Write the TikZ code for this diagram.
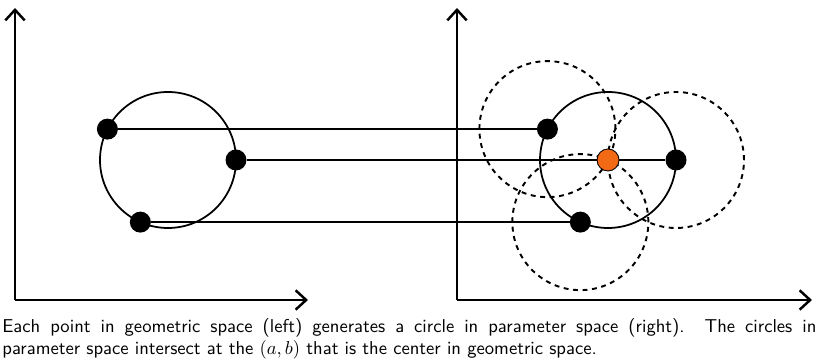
\documentclass[tikz,border=0pt]{standalone}
\usepackage{amsmath,amssymb}
\usepackage{tikz}
\usepackage{xcolor}
\usetikzlibrary{arrows.meta}

\definecolor{houghorange}{RGB}{242,106,20}

\tikzset{
  axis/.style={line width=1.4pt,-{Straight Barb[length=6pt,width=11pt,line width=1.4pt]}},
  ring/.style={line width=1pt},
  vote/.style={line width=1.1pt,dash pattern=on 2.8pt off 2.6pt},
  dot/.style={circle,fill=black,inner sep=0pt,minimum size=0.42cm},
  hit/.style={circle,draw=black,line width=0.5pt,fill=houghorange,inner sep=0pt,minimum size=0.44cm}
}

\begin{document}
\begin{tikzpicture}[font=\sffamily]
\useasboundingbox (0,0) rectangle (16.4,7.2);
% axes
\coordinate (lo) at (0.3,1.2);
\coordinate (ro) at (9.14,1.2);
\coordinate (ly) at (0.3,7.04);
\coordinate (lx) at (6.16,1.2);
\coordinate (ry) at (9.14,7.04);
\coordinate (rx) at (16.24,1.2);
\draw[axis] (lo) -- (ly);
\draw[axis] (lo) -- (lx);
\draw[axis] (ro) -- (ry);
\draw[axis] (ro) -- (rx);
% circles
\coordinate (C) at (3.36,4.0);
\coordinate (D) at (12.16,4.0);
\draw[ring] (C) circle (1.36);
\draw[ring] (D) circle (1.36);
\coordinate (p1) at ([shift={(153:1.36)}]C);
\coordinate (p2) at ([shift={(0:1.36)}]C);
\coordinate (p3) at ([shift={(246:1.36)}]C);
\coordinate (q1) at ([shift={(153:1.36)}]D);
\coordinate (q2) at ([shift={(0:1.36)}]D);
\coordinate (q3) at ([shift={(246:1.36)}]D);
\draw[vote] (q1) circle (1.36);
\draw[vote] (q2) circle (1.36);
\draw[vote] (q3) circle (1.36);
% points
\node[dot] (l1) at (p1) {};
\node[dot] (l2) at (p2) {};
\node[dot] (l3) at (p3) {};
\node[dot] (r1) at (q1) {};
\node[dot] (r2) at (q2) {};
\node[dot] (r3) at (q3) {};
\draw[ring] (l1) -- (r1);
\draw[ring] (l2) -- (r2);
\draw[ring] (l3) -- (r3);
\node[hit] (ab) at (D) {};
\node[anchor=north west,scale=1.06,transform shape,text width=15.36cm,align=justify,inner sep=0pt] (cap) at (0.04,0.84)
  {Each point in geometric space (left) generates a circle in parameter space (right).\ \ The circles in\linebreak parameter space intersect at the $(a,b)$ that is the center in geometric space.};
\end{tikzpicture}
\end{document}
